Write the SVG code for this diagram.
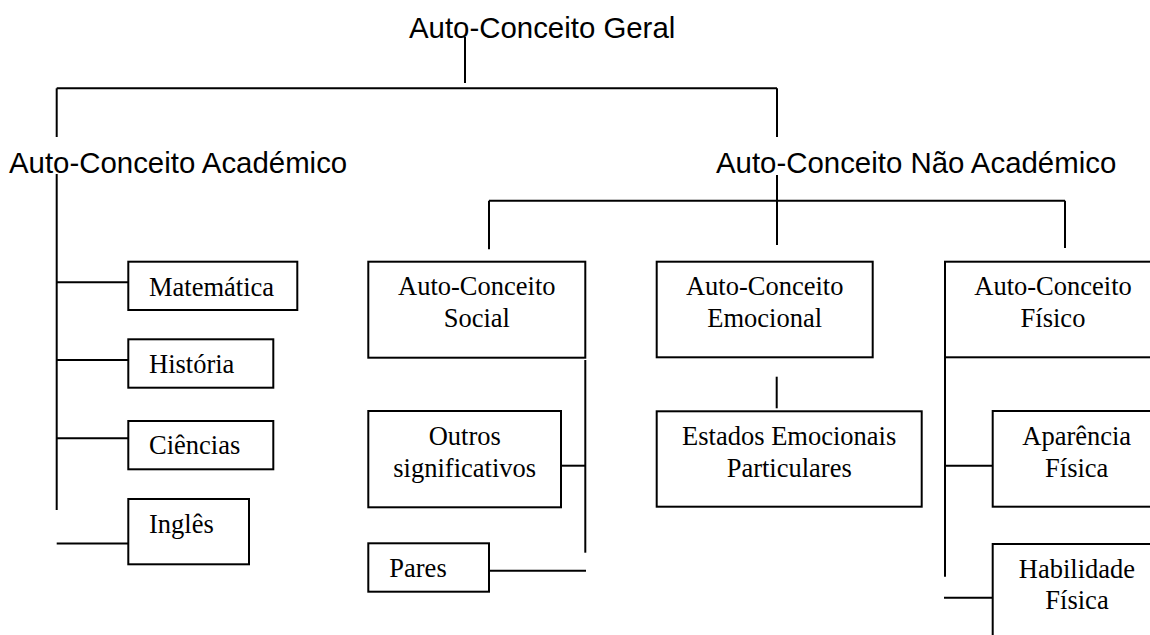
<svg xmlns="http://www.w3.org/2000/svg" width="1150" height="635" viewBox="0 0 1150 635">
<style>
.t{font-family:"Liberation Sans",Arial,sans-serif;font-size:29.4px;fill:#000}
.b{fill:#fff;stroke:#000;stroke-width:2}
.s{font-family:"Liberation Serif","Times New Roman",serif;font-size:26.5px;fill:#000}
.c{text-anchor:middle}
.l{stroke:#000;stroke-width:2;fill:none}
</style>
<rect width="1150" height="635" fill="#fff"/>
<g id="connectors" class="l">
<line x1="465" y1="37" x2="465" y2="83"/>
<line x1="56.7" y1="88.3" x2="777" y2="88.3"/>
<line x1="56.7" y1="88.3" x2="56.7" y2="137"/>
<line x1="777" y1="88.3" x2="777" y2="137"/>
<line x1="56.7" y1="174" x2="56.7" y2="510"/>
<line x1="56.7" y1="282.3" x2="128.3" y2="282.3"/>
<line x1="56.7" y1="360" x2="128.3" y2="360"/>
<line x1="56.7" y1="438.3" x2="128.3" y2="438.3"/>
<line x1="56.7" y1="543.5" x2="128.3" y2="543.5"/>
<line x1="777" y1="175" x2="777" y2="245"/>
<line x1="489" y1="200.7" x2="1065" y2="200.7"/>
<line x1="489" y1="200.7" x2="489" y2="249.3"/>
<line x1="1065" y1="200.7" x2="1065" y2="248"/>
<line x1="585.3" y1="360" x2="585.3" y2="552.7"/>
<line x1="561" y1="465.7" x2="585.3" y2="465.7"/>
<line x1="489" y1="570.7" x2="586" y2="570.7"/>
<line x1="776.7" y1="376.7" x2="776.7" y2="408.3"/>
<line x1="945" y1="357" x2="945" y2="576.7"/>
<line x1="945" y1="465.7" x2="992.7" y2="465.7"/>
<line x1="944" y1="597.7" x2="992.7" y2="597.7"/>
</g>
<g id="geral"><text class="t" x="409" y="37.7">Auto-Conceito Geral</text></g>
<g id="academico"><text class="t" x="9" y="172.7">Auto-Conceito Académico</text></g>
<g id="nao-academico"><text class="t" x="716" y="173">Auto-Conceito Não Académico</text></g>
<g id="matematica"><rect class="b" x="128.3" y="261.7" width="169" height="48.3"/><text class="s" x="149" y="295.7">Matemática</text></g>
<g id="historia"><rect class="b" x="128.3" y="339.3" width="145" height="48.4"/><text class="s" x="149" y="373.3">História</text></g>
<g id="ciencias"><rect class="b" x="128.3" y="421" width="145" height="48.3"/><text class="s" x="149" y="454">Ciências</text></g>
<g id="ingles"><rect class="b" x="128.3" y="499" width="120.7" height="65.3"/><text class="s" x="149" y="533.3">Inglês</text></g>
<g id="social"><rect class="b" x="368.3" y="261.7" width="217" height="96"/><text class="s c" x="476.8" y="295">Auto-Conceito</text><text class="s c" x="476.8" y="326.7">Social</text></g>
<g id="outros"><rect class="b" x="368.3" y="411" width="192.7" height="96.3"/><text class="s c" x="464.7" y="445">Outros</text><text class="s c" x="464.7" y="476.7">significativos</text></g>
<g id="pares"><rect class="b" x="368.3" y="543.3" width="120.7" height="48.4"/><text class="s" x="389.3" y="577.3">Pares</text></g>
<g id="emocional"><rect class="b" x="656.7" y="261.7" width="216" height="95.6"/><text class="s c" x="764.7" y="295">Auto-Conceito</text><text class="s c" x="764.7" y="326.7">Emocional</text></g>
<g id="estados"><rect class="b" x="656.7" y="411.3" width="265" height="95.4"/><text class="s c" x="789.2" y="445">Estados Emocionais</text><text class="s c" x="789.2" y="476.7">Particulares</text></g>
<g id="fisico"><rect class="b" x="945" y="261.7" width="216" height="95.6"/><text class="s c" x="1053" y="295">Auto-Conceito</text><text class="s c" x="1053" y="326.7">Físico</text></g>
<g id="aparencia"><rect class="b" x="992.7" y="411" width="168" height="95.7"/><text class="s c" x="1076.7" y="445">Aparência</text><text class="s c" x="1076.7" y="476.7">Física</text></g>
<g id="habilidade"><rect class="b" x="992.7" y="544" width="168" height="96"/><text class="s c" x="1077" y="578.3">Habilidade</text><text class="s c" x="1077" y="609">Física</text></g>
</svg>
